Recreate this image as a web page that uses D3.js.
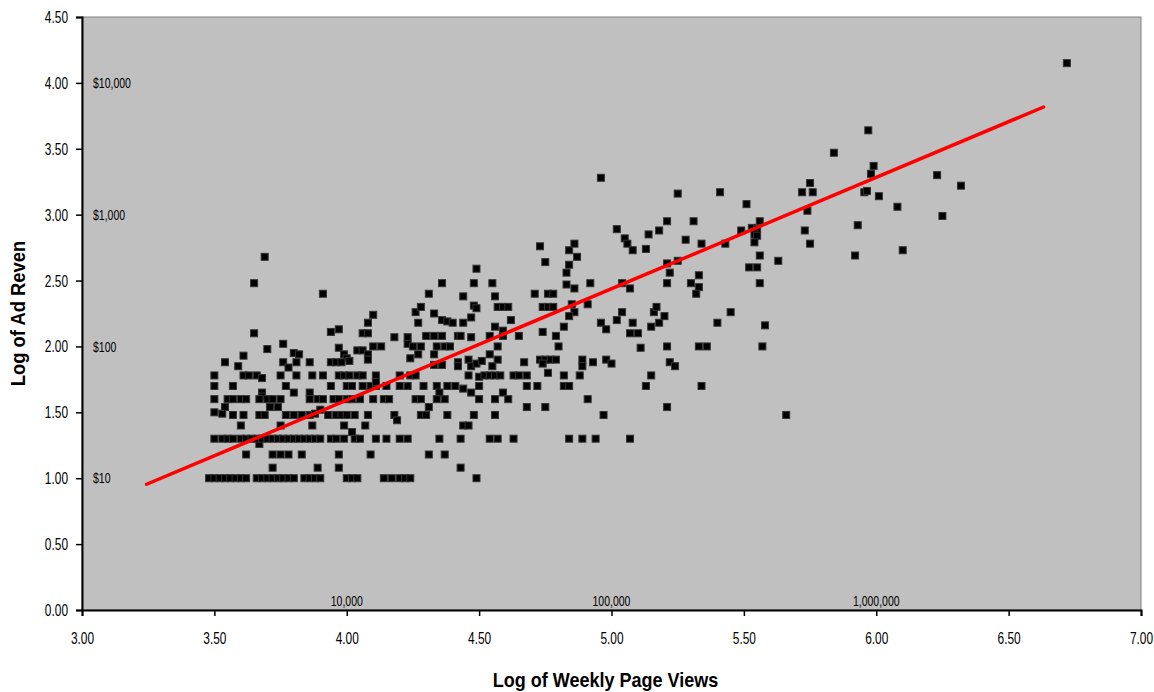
<!DOCTYPE html>
<html>
<head>
<meta charset="utf-8">
<script src="https://cdn.jsdelivr.net/npm/d3@7"></script>
<style>
  body { margin: 0; background: #fff; }
  text { font-family: "Liberation Sans", Arial, sans-serif; fill: #000; }
</style>
</head>
<body>
<div id="chart"></div>
<script>
// log10 of weekly page views / log10 of weekly ad revenue
const sparseSites = [
  [6.72, 4.15], [5.97, 3.64], [5.84, 3.47], [5.99, 3.37], [5.98, 3.31], [5.955, 3.17], [5.965, 3.18],
  [6.01, 3.14], [6.08, 3.06], [6.23, 3.30], [6.32, 3.22], [6.25, 2.99], [5.93, 2.92], [6.10, 2.73],
  [5.92, 2.69], [5.75, 3.24], [5.72, 3.17], [5.76, 3.17], [5.41, 3.17], [5.25, 3.16], [5.51, 3.08],
  [5.74, 3.03], [5.31, 2.95], [5.56, 2.95], [5.28, 2.81], [5.49, 2.88], [5.53, 2.90], [5.55, 2.89],
  [5.54, 2.85], [5.55, 2.84], [5.54, 2.79], [5.73, 2.88], [5.75, 2.78], [5.34, 2.78], [5.43, 2.78],
  [5.56, 2.69], [5.63, 2.65], [5.52, 2.60], [5.55, 2.60], [5.33, 2.54], [5.30, 2.48], [5.33, 2.45],
  [5.32, 2.40], [5.56, 2.48], [5.45, 2.26], [5.40, 2.18], [5.58, 2.16], [5.33, 2.00], [5.36, 2.00],
  [5.57, 2.00], [5.34, 1.70], [5.66, 1.48], [4.96, 3.28], [5.02, 2.89], [5.05, 2.82], [5.14, 2.85],
  [5.18, 2.88], [5.21, 2.95]
];

const midSites = [
  [4.73, 2.76], [4.84, 2.73], [4.86, 2.78], [4.87, 2.68], [4.75, 2.64], [4.84, 2.62], [4.83, 2.56],
  [4.49, 2.59], [5.06, 2.78], [5.08, 2.73], [5.13, 2.74], [4.36, 2.48], [4.48, 2.48], [4.55, 2.48],
  [4.83, 2.47], [4.86, 2.44], [4.92, 2.48], [5.04, 2.48], [5.07, 2.44], [5.21, 2.48], [5.21, 2.63],
  [5.22, 2.56], [5.25, 2.65], [4.44, 2.38], [4.56, 2.38], [4.71, 2.40], [4.76, 2.40], [4.78, 2.40],
  [4.48, 2.31], [4.49, 2.29], [4.57, 2.30], [4.59, 2.30], [4.61, 2.30], [4.74, 2.30], [4.76, 2.30],
  [4.78, 2.30], [4.85, 2.32], [4.86, 2.26], [4.84, 2.23], [4.91, 2.32], [4.36, 2.20], [4.38, 2.19],
  [4.40, 2.18], [4.44, 2.18], [4.47, 2.22], [4.62, 2.20], [4.56, 2.15], [4.59, 2.12], [4.74, 2.11],
  [4.82, 2.15], [4.96, 2.18], [4.98, 2.13], [5.02, 2.20], [5.04, 2.26], [5.08, 2.18], [5.07, 2.10],
  [5.10, 2.10], [5.15, 2.15], [5.16, 2.26], [5.17, 2.30], [5.18, 2.18], [5.20, 2.23], [4.36, 2.08],
  [4.42, 2.08], [4.43, 2.08], [4.47, 2.07], [4.54, 2.08], [4.59, 2.08], [4.65, 2.08], [4.79, 2.08],
  [5.11, 1.99], [5.21, 2.00], [4.37, 2.00], [4.39, 2.00], [4.57, 2.00], [4.80, 2.00], [4.54, 1.94],
  [4.42, 1.88], [4.42, 1.85], [4.46, 1.90], [4.47, 1.85], [4.49, 1.87], [4.51, 1.89], [4.55, 1.85],
  [4.57, 1.90], [4.67, 1.88], [4.73, 1.90], [4.75, 1.90], [4.77, 1.90], [4.79, 1.90], [4.74, 1.87],
  [4.76, 1.80], [4.89, 1.90], [4.89, 1.85], [4.93, 1.88], [4.98, 1.90], [5.00, 1.87], [5.22, 1.88],
  [5.24, 1.85], [4.46, 1.78], [4.50, 1.77], [4.52, 1.78], [4.54, 1.78], [4.56, 1.78], [4.58, 1.78],
  [4.63, 1.78], [4.65, 1.78], [4.68, 1.78], [4.82, 1.78], [4.88, 1.78], [5.15, 1.78], [4.38, 1.70],
  [4.41, 1.70], [4.44, 1.68], [4.47, 1.65], [4.50, 1.70], [4.68, 1.70], [4.72, 1.70], [4.82, 1.70],
  [4.84, 1.70], [5.13, 1.70], [4.37, 1.60], [4.50, 1.60], [4.56, 1.60], [4.59, 1.65], [4.61, 1.60],
  [4.91, 1.60], [4.68, 1.54], [4.75, 1.54], [5.21, 1.54], [4.38, 1.48], [4.48, 1.48], [4.56, 1.48],
  [4.97, 1.48], [4.44, 1.40], [4.46, 1.40], [4.43, 1.30], [4.54, 1.30], [4.57, 1.30], [4.63, 1.30],
  [4.35, 1.30], [4.84, 1.30], [4.89, 1.30], [4.94, 1.30], [5.07, 1.30], [4.37, 1.18], [4.43, 1.08],
  [4.49, 1.00]
];

const lowSites = [
  [3.69, 2.68], [3.65, 2.48], [3.91, 2.40], [4.31, 2.40], [3.65, 2.10], [3.70, 1.98], [3.76, 2.02],
  [3.54, 1.88], [3.61, 1.93], [3.59, 1.85], [3.80, 1.95], [3.82, 1.94], [3.81, 1.88], [3.86, 1.88],
  [3.76, 1.88], [3.78, 1.84], [3.50, 1.78], [3.61, 1.78], [3.63, 1.78], [3.66, 1.78], [3.68, 1.76],
  [3.75, 1.78], [3.81, 1.78], [3.87, 1.78], [3.91, 1.78], [3.94, 2.11], [3.97, 2.13], [3.97, 1.99],
  [3.99, 1.94], [4.00, 1.91], [3.94, 1.88], [3.96, 1.88], [3.98, 1.88], [4.01, 1.89], [3.97, 1.78],
  [3.99, 1.78], [4.01, 1.78], [4.04, 1.78], [4.06, 1.78], [4.04, 1.97], [4.06, 1.97], [4.08, 1.94],
  [4.06, 2.10], [4.08, 2.10], [4.08, 2.18], [4.10, 2.24], [4.10, 2.00], [4.13, 2.00], [4.08, 1.90],
  [4.11, 1.78], [4.18, 2.07], [4.23, 2.07], [4.23, 2.02], [4.25, 2.00], [4.24, 1.91], [4.27, 1.94],
  [4.28, 2.00], [4.30, 2.08], [4.33, 2.08], [4.26, 2.26], [4.28, 2.30], [4.27, 2.18], [4.33, 2.25],
  [4.34, 2.00], [4.33, 1.94], [4.20, 1.78], [4.24, 1.78], [4.26, 1.78], [4.33, 1.86], [4.36, 1.86],
  [3.50, 1.70], [3.57, 1.70], [3.68, 1.65], [3.68, 1.62], [3.77, 1.70], [3.80, 1.65], [3.86, 1.65],
  [3.94, 1.70], [4.00, 1.70], [4.02, 1.70], [4.06, 1.70], [4.09, 1.70], [4.11, 1.70], [4.11, 1.73],
  [4.15, 1.70], [4.20, 1.70], [4.23, 1.70], [4.29, 1.70], [4.34, 1.70], [4.35, 1.65], [4.31, 1.54],
  [3.50, 1.50], [3.53, 1.49], [3.57, 1.48], [3.54, 1.54], [3.61, 1.48], [3.67, 1.48], [3.69, 1.48],
  [3.71, 1.54], [3.74, 1.54], [3.77, 1.48], [3.80, 1.48], [3.83, 1.48], [3.86, 1.48], [3.88, 1.49],
  [3.90, 1.52], [3.93, 1.48], [3.96, 1.48], [3.98, 1.48], [4.00, 1.48], [4.03, 1.48], [4.08, 1.48],
  [4.18, 1.48], [4.19, 1.44], [4.28, 1.48], [4.30, 1.48], [4.02, 1.35], [3.67, 1.26],
  [3.60, 1.40], [3.75, 1.40], [3.87, 1.40], [3.99, 1.40], [4.07, 1.40]
];

// sites that sit on the round revenue rows
const viewsAt40 = [3.50, 3.55, 3.57, 3.60, 3.62, 3.67, 3.70, 3.72, 3.75, 3.86, 3.89, 3.91, 3.95, 3.97,
  4.00, 4.02, 4.05, 4.10, 4.14, 4.16, 4.26, 4.28, 4.34];
const viewsAt20 = [3.50, 3.53, 3.55, 3.57, 3.60, 3.62, 3.64, 3.66, 3.68, 3.70, 3.72, 3.74, 3.76, 3.78,
  3.80, 3.82, 3.84, 3.86, 3.88, 3.90, 3.94, 3.96, 3.99, 4.03, 4.05, 4.11, 4.15, 4.20, 4.23];
const viewsAt15 = [3.62, 3.72, 3.75, 3.78, 3.83, 3.97, 4.09, 4.31];
const viewsAt12 = [3.72, 3.89, 3.97];
const viewsAt10 = [3.48, 3.50, 3.52, 3.54, 3.56, 3.58, 3.60, 3.62, 3.66, 3.68, 3.70, 3.72, 3.74, 3.76,
  3.78, 3.80, 3.84, 3.86, 3.88, 3.90, 4.00, 4.02, 4.04, 4.14, 4.17, 4.20, 4.22, 4.24];

// linear trend fitted by the spreadsheet
const trendSlope = 0.845;
const trendIntercept = -1.787;
const trendRange = [3.244, 6.632];

const xTicks = [3.0, 3.5, 4.0, 4.5, 5.0, 5.5, 6.0, 6.5, 7.0];
const yTicks = [0, 0.5, 1.0, 1.5, 2.0, 2.5, 3.0, 3.5, 4.0, 4.5];
const revenueNotes = [[1, "$10"], [2, "$100"], [3, "$1,000"], [4, "$10,000"]];
const viewNotes = [[4, "10,000"], [5, "100,000"], [6, "1,000,000"]];

const margin = { top: 17, right: 13, bottom: 82, left: 82 };
const width = 1154 - margin.left - margin.right;
const height = 692 - margin.top - margin.bottom;
const narrow = 0.7;   // the original face is a tall condensed one

const svg = d3.select("#chart").append("svg")
    .attr("width", 1154)
    .attr("height", 692);

const g = svg.append("g")
    .attr("transform", `translate(${margin.left},${margin.top})`);

const x = d3.scaleLinear().domain([3, 7]).range([0, width]);
const y = d3.scaleLinear().domain([0, 4.5]).range([height, 0]);

g.append("rect")
    .attr("width", width)
    .attr("height", height)
    .attr("fill", "#c0c0c0")
    .attr("stroke", "#808080")
    .attr("stroke-width", 1);

const points = sparseSites.concat(midSites, lowSites,
    viewsAt40.map(v => [v, 1.60]),
    viewsAt20.map(v => [v, 1.30]),
    viewsAt15.map(v => [v, 1.18]),
    viewsAt12.map(v => [v, 1.08]),
    viewsAt10.map(v => [v, 1.00]));

g.selectAll("rect.site")
    .data(points)
    .join("rect")
    .attr("class", "site")
    .attr("x", d => x(d[0]) - 3.5)
    .attr("y", d => y(d[1]) - 3.5)
    .attr("width", 7)
    .attr("height", 7)
    .attr("fill", "#000")
    .attr("stroke", "#333")
    .attr("stroke-width", 1);

const trend = d3.line()
    .x(d => x(d))
    .y(d => y(trendSlope * d + trendIntercept));

g.append("path")
    .attr("d", trend(trendRange))
    .attr("fill", "none")
    .attr("stroke", "#ff0000")
    .attr("stroke-width", 3.5)
    .attr("stroke-linecap", "round");

const xAxis = g.append("g")
    .attr("transform", `translate(0,${height})`)
    .call(d3.axisBottom(x).tickValues(xTicks).tickFormat(d3.format(".2f")).tickSizeOuter(0).tickSize(6).tickPadding(16));

const yAxis = g.append("g")
    .call(d3.axisLeft(y).tickValues(yTicks).tickFormat(d3.format(".2f")).tickSizeOuter(0).tickSize(6).tickPadding(8));

[xAxis, yAxis].forEach(a => {
    a.select(".domain").attr("stroke", "#000").attr("stroke-width", 2);
    a.selectAll(".tick line").attr("stroke", "#000").attr("stroke-width", 1.5);
    a.selectAll("text").attr("font-size", "17px").attr("transform", `scale(${narrow},1)`);
});
yAxis.selectAll("text").attr("x", -14 / narrow);

g.selectAll("text.rev")
    .data(revenueNotes)
    .join("text")
    .attr("class", "rev")
    .attr("transform", d => `translate(11,${y(d[0])}) scale(${narrow},1)`)
    .attr("dy", "0.35em")
    .attr("font-size", "15px")
    .text(d => d[1]);

g.selectAll("text.views")
    .data(viewNotes)
    .join("text")
    .attr("class", "views")
    .attr("transform", d => `translate(${x(d[0])},${height - 4}) scale(${narrow},1)`)
    .attr("text-anchor", "middle")
    .attr("font-size", "15px")
    .text(d => d[1]);

svg.append("text")
    .attr("transform", `translate(${margin.left + width / 2 - 6},687) scale(0.9,1)`)
    .attr("text-anchor", "middle")
    .attr("font-size", "20px")
    .attr("font-weight", "bold")
    .text("Log of Weekly Page Views");

svg.append("text")
    .attr("transform", `translate(25,${margin.top + height / 2}) rotate(-90) scale(0.92,1)`)
    .attr("text-anchor", "middle")
    .attr("font-size", "20px")
    .attr("font-weight", "bold")
    .text("Log of Ad Reven");
</script>
</body>
</html>
